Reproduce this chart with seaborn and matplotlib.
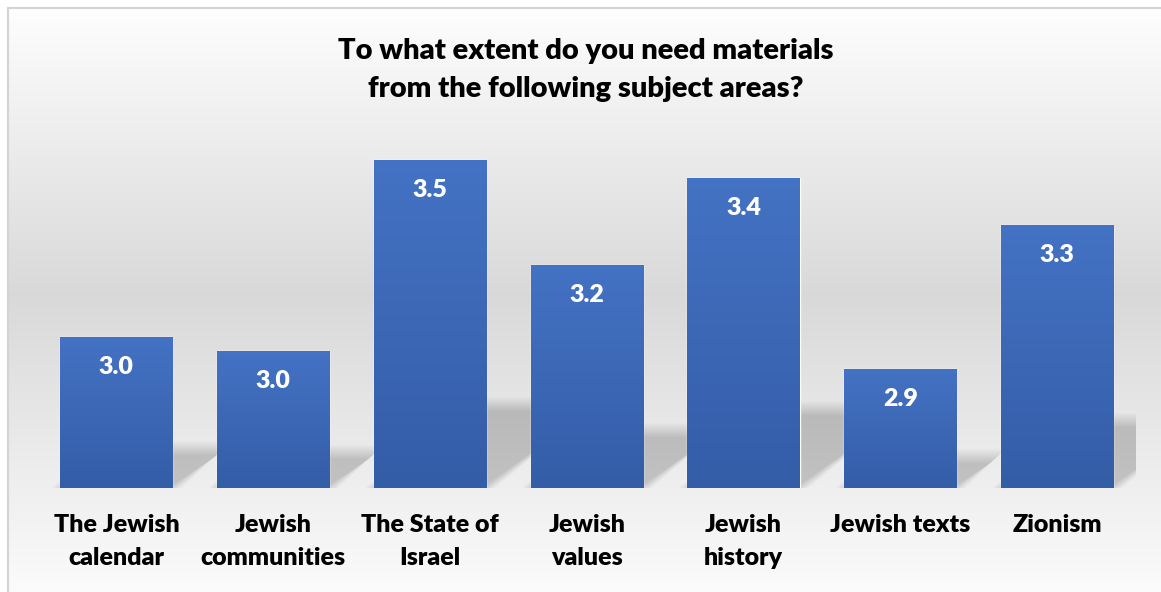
import numpy as np
import pandas as pd
import seaborn as sns
import matplotlib.pyplot as plt
from matplotlib.colors import LinearSegmentedColormap
from matplotlib.patches import Polygon

categories = ["The Jewish\ncalendar", "Jewish\ncommunities", "The State of\nIsrael",
              "Jewish\nvalues", "Jewish\nhistory", "Jewish texts", "Zionism"]
scores = [3.00, 2.96, 3.49, 3.20, 3.44, 2.91, 3.31]
title = "To what extent do you need materials\nfrom the following subject areas?"

df = pd.DataFrame({"area": categories, "score": scores})

sns.set_theme(style="white")
plt.rcParams["font.family"] = ["Lato", "DejaVu Sans"]

W, H = 1161, 592
fig = plt.figure(figsize=(W / 100, H / 100), dpi=100)

# background: grey gradient chart area with thin border
bg = fig.add_axes([0, 0, 1, 1], zorder=-10)
bg.set_xlim(0, W)
bg.set_ylim(H, 0)
bg.axis("off")
rows = np.arange(H)
shade = np.interp(rows, [0, 9, 290, 592], [1.0, 0.99, 0.85, 0.985])
grad = np.repeat(shade[:, None], 2, axis=1)
bg.imshow(np.dstack([grad, grad, grad]), extent=[9, W, H, 9], aspect="auto", zorder=0)
bg.plot([8, 8], [8, H], color="#d4d4d4", lw=1.6, zorder=1)
bg.plot([8, W], [8, 8], color="#d4d4d4", lw=1.6, zorder=1)

ymin, ymax = 2.58, 3.574
ax = fig.add_axes([38 / W, 1 - 488 / H, 1097.5 / W, 358 / H])
ax.set_facecolor("none")

sns.barplot(data=df, x="area", y="score", color="#4472C4", width=0.715,
            ax=ax, zorder=3)

# soft shadows behind bars
px_x = 1097.5 / 7
px_y = 358 / (ymax - ymin)
for i, v in enumerate(scores):
    hs = 0.25 * (v - ymin)
    dx = 1.33 * hs * px_y / px_x
    xl, xr = i - 0.3575, i + 0.3575
    for r in np.linspace(-5, 9, 15):
        rx, ry = r / px_x, r / px_y
        poly = Polygon([(xl - rx, ymin), (xr + rx, ymin),
                        (xr + dx + rx, ymin + hs + ry), (xl + dx - rx, ymin + hs + ry)],
                       closed=True, facecolor="#555555", alpha=0.019,
                       edgecolor="none", zorder=1)
        ax.add_patch(poly)

# gradient fill on the bars
cmap = LinearSegmentedColormap.from_list("bar", ["#345DA7", "#4472C4"])
ramp = np.linspace(0, 1, 256)[:, None]
for patch, v in zip(ax.patches, scores):
    x0 = patch.get_x()
    x1 = x0 + patch.get_width()
    im = ax.imshow(ramp, cmap=cmap, extent=[x0, x1, ymin, v], origin="lower",
                   aspect="auto", zorder=4)
    im.set_clip_path(patch)

for i, v in enumerate(scores):
    ax.annotate(f"{v:.1f}", (i, v), xytext=(0, -21.5), textcoords="offset points",
                ha="center", va="center", color="white", fontsize=18,
                fontweight="heavy", zorder=5)

ax.set_xlim(-0.5, 6.5)
ax.set_ylim(ymin, ymax)
ax.set_xlabel("")
ax.set_ylabel("")
ax.set_yticks([])
sns.despine(ax=ax, left=True, bottom=True)
ax.tick_params(axis="x", length=0, pad=19)
for lbl in ax.get_xticklabels():
    lbl.set_fontsize(18)
    lbl.set_fontweight("heavy")
    lbl.set_linespacing(1.6)
    lbl.set_color("black")

fig.text(586 / W, 1 - 70 / H, title, ha="center", va="center", fontsize=21,
         fontweight="heavy", linespacing=1.55, color="black")

fig.savefig("out.png", dpi=100)
